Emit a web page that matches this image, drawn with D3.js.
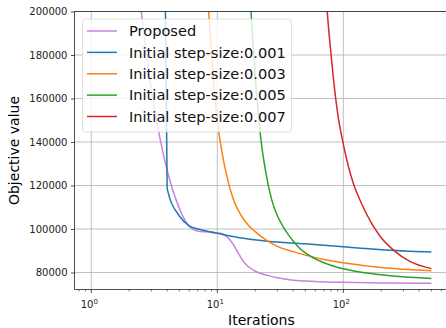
<!DOCTYPE html>
<html>
<head>
<meta charset="utf-8">
<script src="https://cdn.jsdelivr.net/npm/d3@7"></script>
<style>
  body { margin: 0; background: #fff; }
  svg { display: block; font-family: "DejaVu Sans", sans-serif; }
</style>
</head>
<body>
<div id="chart"></div>
<script>
// series data (iteration, objective value)
const proposedIter = [2, 3, 4, 5, 6, 7, 8, 9, 10, 11, 12, 13, 14, 15, 16, 17, 18, 20, 25, 30, 40, 60, 100, 200, 500];
const proposedVal = [250000, 164000, 127000, 109500, 101000, 99000, 98700, 98500, 98300, 97700, 96300, 94000, 91000, 88000, 85400, 83600, 82300, 80600, 78700, 77600, 76500, 75900, 75500, 75200, 75100];

const step001Iter = [3, 4, 5, 6, 7, 8, 10, 15, 25, 50, 100, 200, 500];
const step001Val = [870000, 118700, 106000, 101500, 100000, 99200, 98000, 96000, 94400, 93200, 91800, 90500, 89400];

const step003Iter = [8, 9, 10, 11, 12, 13, 14, 15, 17, 20, 25, 30, 40, 50, 70, 100, 200, 500];
const step003Val = [225000, 180000, 150000, 134000, 123500, 116000, 111000, 107500, 102800, 98800, 94500, 92000, 89600, 88000, 86000, 84500, 82300, 80800];

const step005Iter = [18, 19, 20, 21, 22, 24, 27, 30, 33, 36, 40, 45, 50, 65, 100, 200, 500];
const step005Val = [212000, 189000, 170000, 155000, 143000, 127500, 113500, 106000, 101500, 98000, 94500, 91200, 89000, 85300, 81700, 79000, 77300];

const step007Iter = [70, 75, 80, 85, 90, 100, 110, 120, 140, 170, 200, 250, 340, 500];
const step007Val = [226000, 198000, 180000, 165000, 153500, 139000, 128500, 121000, 111500, 102000, 96000, 90300, 85000, 81800];

const seriesNames = ["Proposed", "Initial step-size:0.001", "Initial step-size:0.003", "Initial step-size:0.005", "Initial step-size:0.007"];
const seriesColors = ["#c983dc", "#1f77b4", "#ff7f0e", "#2ca02c", "#d62728"];

const yTicks = [80000, 100000, 120000, 140000, 160000, 180000, 200000];
const xMajor = [1, 10, 100];

const series = [
  d3.zip(proposedIter, proposedVal),
  d3.zip(step001Iter, step001Val),
  d3.zip(step003Iter, step003Val),
  d3.zip(step005Iter, step005Val),
  d3.zip(step007Iter, step007Val)
];

const W = 446, H = 328;
const plotL = 74.5, plotR = 448.4, plotT = 11.5, plotB = 289.5;

const svg = d3.select("#chart").append("svg")
  .attr("width", W).attr("height", H);

// log x axis with matplotlib-like margins
let x = d3.scaleLog().domain([0.736, 682]).range([plotL, plotR]);
let y = d3.scaleLinear().domain([72200, 200000]).range([plotB, plotT]);

svg.append("clipPath").attr("id", "clip")
  .append("rect").attr("x", plotL).attr("y", plotT)
  .attr("width", plotR - plotL).attr("height", plotB - plotT);

// grid
svg.append("g").selectAll("line").data(yTicks).enter().append("line")
  .attr("x1", plotL).attr("x2", plotR)
  .attr("y1", d => y(d)).attr("y2", d => y(d))
  .attr("stroke", "#b0b0b0").attr("stroke-width", 0.8);
svg.append("g").selectAll("line").data(xMajor).enter().append("line")
  .attr("x1", d => x(d)).attr("x2", d => x(d))
  .attr("y1", plotT).attr("y2", plotB)
  .attr("stroke", "#b0b0b0").attr("stroke-width", 0.8);

// curves
const line = d3.line()
  .x(d => x(d[0]))
  .y(d => y(d[1]))
  .curve(d3.curveMonotoneX);

svg.append("g").attr("clip-path", "url(#clip)")
  .selectAll("path").data(series).enter().append("path")
  .attr("d", line)
  .attr("fill", "none")
  .attr("stroke", (d, i) => seriesColors[i])
  .attr("stroke-width", 1.5)
  .attr("stroke-linejoin", "round");

// y axis
const yAxis = d3.axisLeft(y).tickValues(yTicks).tickSize(3.5).tickPadding(3.5)
  .tickFormat(d3.format("d"));
const gy = svg.append("g").attr("transform", `translate(${plotL},0)`).call(yAxis);
gy.select(".domain").remove();
gy.selectAll("text").style("font-size", "10px").style("font-family", "DejaVu Sans").attr("fill", "#222");
gy.selectAll("line").attr("stroke", "#222").attr("stroke-width", 0.8);

// x axis: major + minor ticks
const minor = [];
[0.1, 1, 10, 100].forEach(b => {
  for (let k = 2; k <= 9; k++) {
    const v = b * k;
    if (v > 0.736 && v < 682) minor.push(v);
  }
});
svg.append("g").selectAll("line").data(minor).enter().append("line")
  .attr("x1", d => x(d)).attr("x2", d => x(d))
  .attr("y1", plotB).attr("y2", plotB + 2)
  .attr("stroke", "#222").attr("stroke-width", 0.6);
svg.append("g").selectAll("line").data(xMajor).enter().append("line")
  .attr("x1", d => x(d)).attr("x2", d => x(d))
  .attr("y1", plotB).attr("y2", plotB + 3.5)
  .attr("stroke", "#222").attr("stroke-width", 0.8);

const xl = svg.append("g").selectAll("text").data(xMajor).enter().append("text")
  .attr("x", d => x(d) - 2)
  .attr("y", 308)
  .attr("text-anchor", "middle")
  .style("font-size", "10px")
  .attr("fill", "#222");
xl.append("tspan").text("10");
xl.append("tspan").attr("dy", -4).style("font-size", "7px").text(d => Math.round(Math.log10(d)));

// spines
svg.append("line").attr("x1", plotL).attr("x2", plotL).attr("y1", plotT).attr("y2", plotB)
  .attr("stroke", "#222").attr("stroke-width", 0.8);
svg.append("line").attr("x1", plotL).attr("x2", plotR).attr("y1", plotB).attr("y2", plotB)
  .attr("stroke", "#222").attr("stroke-width", 0.8);
svg.append("line").attr("x1", plotL).attr("x2", plotR).attr("y1", plotT).attr("y2", plotT)
  .attr("stroke", "#222").attr("stroke-width", 0.8);

// axis labels
svg.append("text")
  .attr("x", (plotL + plotR) / 2).attr("y", 325)
  .attr("text-anchor", "middle")
  .style("font-size", "14px")
  .text("Iterations");
svg.append("text")
  .attr("transform", `translate(19,${(plotT + plotB) / 2}) rotate(-90)`)
  .attr("text-anchor", "middle")
  .style("font-size", "14px")
  .text("Objective value");

// legend
const legend = svg.append("g");
legend.append("rect")
  .attr("x", 82.5).attr("y", 19).attr("width", 209).attr("height", 113)
  .attr("rx", 3)
  .attr("fill", "white").attr("fill-opacity", 0.8)
  .attr("stroke", "#cccccc").attr("stroke-opacity", 0.8).attr("stroke-width", 0.8);

const rowY = d3.scaleLinear().domain([0, 4]).range([31, 116.5]);
const rows = legend.selectAll("g.row").data(seriesNames).enter().append("g");
rows.append("line")
  .attr("x1", 87).attr("x2", 117)
  .attr("y1", (d, i) => rowY(i)).attr("y2", (d, i) => rowY(i))
  .attr("stroke", (d, i) => seriesColors[i]).attr("stroke-width", 1.5);
rows.append("text")
  .attr("x", 129).attr("y", (d, i) => rowY(i) + 5.2)
  .style("font-size", "14.6px")
  .attr("fill", "#111")
  .text(d => d);
</script>
</body>
</html>
